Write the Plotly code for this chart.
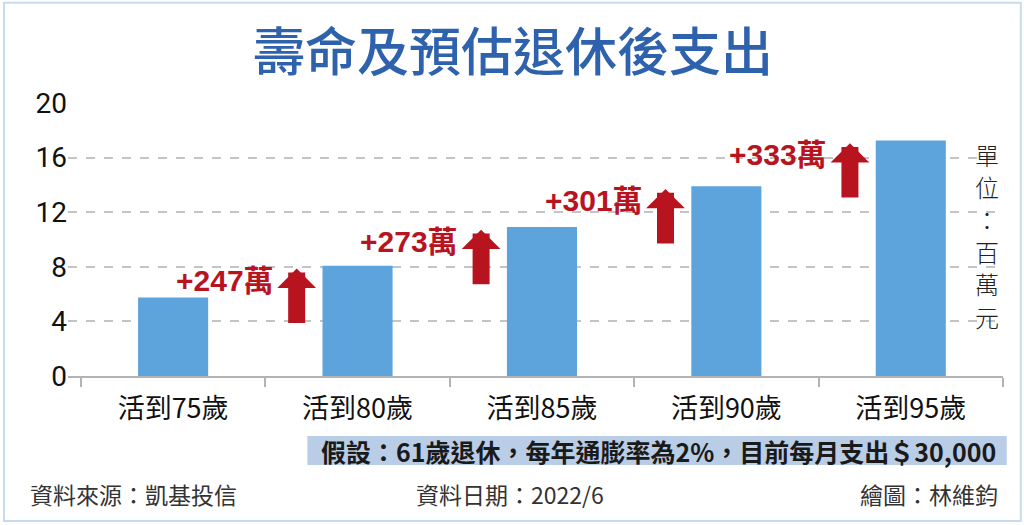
import plotly.graph_objects as go

# 壽命及預估退休後支出 (單位：百萬元)
categories = ["活到75歲", "活到80歲", "活到85歲", "活到90歲", "活到95歲"]
spending = [5.75, 8.07, 10.92, 13.9, 17.26]
increase_labels = ["+247萬", "+273萬", "+301萬", "+333萬"]
y_ticks = [0, 4, 8, 12, 16, 20]

title_text = "壽命及預估退休後支出"
unit_text = "單位：百萬元"
note_text = "假設：61歲退休，每年通膨率為2%，目前每月支出＄30,000"
source_text = "資料來源：凱基投信"
date_text = "資料日期：2022/6"
author_text = "繪圖：林維鈞"

CJK = "Noto Sans CJK TC"
RED = "#b8141f"

fig = go.Figure()
fig.add_trace(go.Bar(
    x=categories,
    y=spending,
    width=0.38,
    marker=dict(color="#5ea4dc", line=dict(width=0)),
    hoverinfo="x+y",
))

annotations = []
for i, lab in enumerate(increase_labels):
    nxt = spending[i + 1]
    # up arrow between bars, pointing at the next bar's height
    annotations.append(dict(
        x=i + 0.67, y=nxt - 0.2, ax=i + 0.67, ay=nxt - 4.3,
        xref="x", yref="y", axref="x", ayref="y",
        text="", showarrow=True, arrowhead=1, arrowsize=0.38,
        arrowwidth=17, arrowcolor=RED,
    ))
    annotations.append(dict(
        x=i + 0.28, y=nxt - 1.05, xref="x", yref="y",
        text=f"<b>{lab}</b>", showarrow=False,
        font=dict(family="Liberation Sans, " + CJK, size=30, color=RED),
    ))

# vertical unit label, one character per line
for k, ch in enumerate(unit_text):
    annotations.append(dict(
        text=ch, x=0.983, y=0.813 - 0.119 * k, xref="paper", yref="paper",
        xanchor="center", yanchor="middle", showarrow=False,
        font=dict(family=CJK, size=24, color="#222222", weight=300),
    ))

annotations += [
    dict(text=title_text, x=0.476, y=1.201, xref="paper", yref="paper",
         xanchor="center", yanchor="middle", showarrow=False,
         font=dict(family=CJK, size=52, color="#2f62ac", weight=500)),
    dict(text=f"<b>{note_text}</b>", x=0.632, y=-0.275, xref="paper", yref="paper",
         xanchor="center", yanchor="middle", showarrow=False,
         font=dict(family=CJK, size=25, color="#1a1a1a")),
    dict(text=source_text, x=-0.043, y=-0.432, xref="paper", yref="paper",
         xanchor="left", yanchor="middle", showarrow=False,
         font=dict(family=CJK, size=23, color="#333333")),
    dict(text=date_text, x=0.473, y=-0.432, xref="paper", yref="paper",
         xanchor="center", yanchor="middle", showarrow=False,
         font=dict(family=CJK, size=23, color="#333333")),
    dict(text=author_text, x=0.997, y=-0.432, xref="paper", yref="paper",
         xanchor="right", yanchor="middle", showarrow=False,
         font=dict(family=CJK, size=23, color="#333333")),
]

shapes = [
    # note box
    dict(type="rect", xref="paper", yref="paper", x0=0.256, x1=1.004,
         y0=-0.326, y1=-0.22, fillcolor="#b9cde6",
         line=dict(width=0), layer="below"),
    # outer frame
    dict(type="rect", xref="paper", yref="paper", x0=-0.0684, x1=1.019,
         y0=-0.531, y1=1.367, line=dict(color="#c6dbee", width=2)),
]

fig.update_layout(
    width=1024, height=525,
    margin=dict(l=68, r=21, t=103, b=149),
    plot_bgcolor="white", paper_bgcolor="white",
    showlegend=False,
    annotations=annotations,
    shapes=shapes,
    font=dict(family=CJK, color="black"),
)
fig.update_xaxes(
    type="category", range=[-0.57, 4.5],
    showline=True, linecolor="#b3b3b3", linewidth=2,
    ticks="outside", tickson="boundaries", ticklen=9, tickcolor="#b3b3b3", tickwidth=2,
    tickfont=dict(family=CJK, size=27, color="#111111"),
    ticklabelstandoff=8,
    showgrid=False, zeroline=False,
)
fig.update_yaxes(
    range=[0, 20], tickvals=y_ticks,
    showgrid=True, gridcolor="#c4c4c4", gridwidth=1.5, griddash="dash",
    zeroline=False, showline=False, ticks="",
    tickfont=dict(family="Roboto", size=28, color="#111111"),
    ticklabelstandoff=0,
)

# drop the page's default body margin so the figure sits at the window's corner
fig.write_html("out.html", config={"displayModeBar": False},
               post_script="document.body.style.margin='0';")
